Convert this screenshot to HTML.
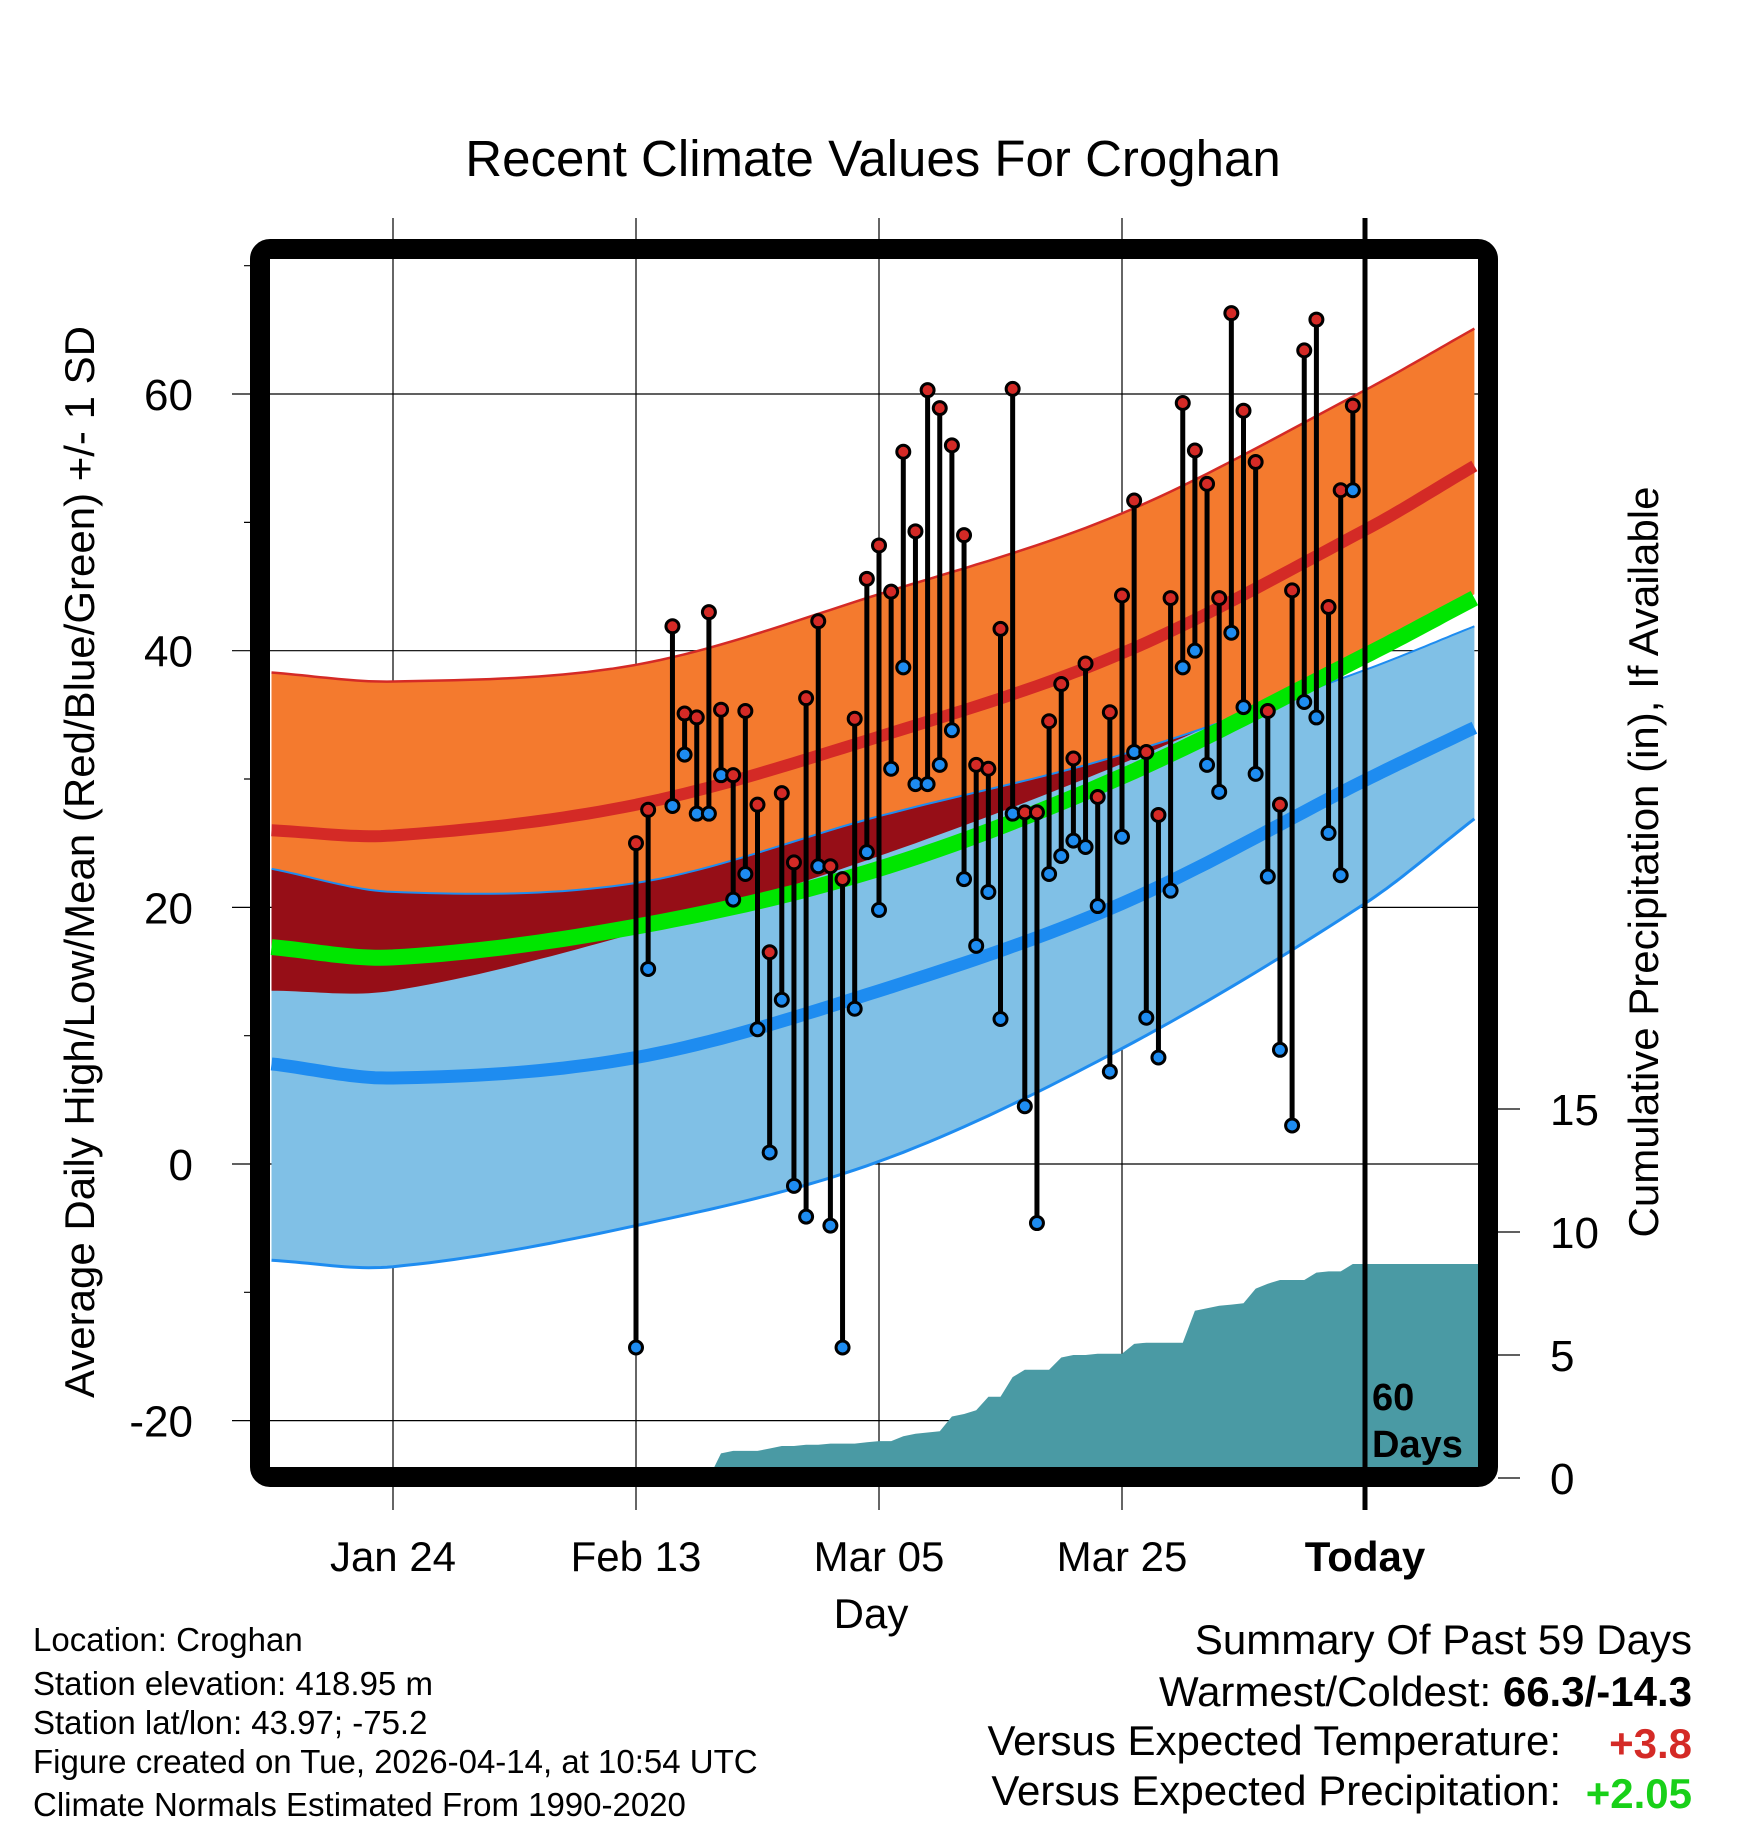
<!DOCTYPE html>
<html><head><meta charset="utf-8"><style>
html,body{margin:0;padding:0;background:#fff;width:1748px;height:1828px;overflow:hidden}
svg text{font-family:"Liberation Sans",sans-serif}
</style></head><body>
<svg id="chart" width="1748" height="1828" viewBox="0 0 1748 1828" xmlns="http://www.w3.org/2000/svg">
<defs><clipPath id="plotclip"><rect x="270" y="260" width="1208" height="1207"/></clipPath></defs>
<text x="873" y="176" font-size="51" text-anchor="middle">Recent Climate Values For Croghan</text>
<g id="grid"></g>
<g id="bands" clip-path="url(#plotclip)"></g>
<g id="precip" clip-path="url(#plotclip)"></g>
<g id="obs" clip-path="url(#plotclip)"></g>
<rect x="260" y="249" width="1228" height="1228" rx="10" fill="none" stroke="#000" stroke-width="20"/>
<g id="axes"></g>
<text transform="translate(94,862) rotate(-90)" font-size="42" text-anchor="middle">Average Daily High/Low/Mean (Red/Blue/Green) +/- 1 SD</text>
<text transform="translate(1658,862) rotate(-90)" font-size="42" text-anchor="middle">Cumulative Precipitation (in), If Available</text>
<text x="871" y="1628" font-size="42" text-anchor="middle">Day</text>
<text font-size="38" font-weight="bold"><tspan x="1372" y="1410">60</tspan><tspan x="1372" y="1457">Days</tspan></text>
<g font-size="33">
<text x="33" y="1651">Location: Croghan</text>
<text x="33" y="1695">Station elevation: 418.95 m</text>
<text x="33" y="1734">Station lat/lon: 43.97; -75.2</text>
<text x="33" y="1773">Figure created on Tue, 2026-04-14, at 10:54 UTC</text>
<text x="33" y="1816">Climate Normals Estimated From 1990-2020</text>
</g>
<g font-size="42" text-anchor="end">
<text x="1692" y="1654">Summary Of Past 59 Days</text>
<text x="1692" y="1706">Warmest/Coldest: <tspan font-weight="bold">66.3/-14.3</tspan></text>
<text x="1561" y="1755">Versus Expected Temperature:</text>
<text x="1692" y="1758" fill="#d42a26" font-weight="bold">+3.8</text>
<text x="1561" y="1805">Versus Expected Precipitation:</text>
<text x="1692" y="1808" fill="#18d018" font-weight="bold">+2.05</text>
</g>
</svg>
<script>
// day index relative to Jan 24
const normDays=[-10,0,20,40,60,80,89];
const highPlus=[38.3,37.6,38.9,44.4,50.7,60.3,65.1];
const highMean=[26.0,25.6,28.0,33.3,39.8,49.4,54.4];
const highMinus=[13.5,13.5,18.0,24.0,31.2,39.8,44.4];
const meanAvg=[16.9,16.1,18.5,23.0,30.2,39.6,44.1];
const lowPlus=[23.0,21.2,21.9,27.1,31.9,38.5,41.9];
const lowMean=[7.8,6.7,8.3,13.5,20.3,29.9,34.0];
const lowMinus=[-7.5,-8.0,-4.8,0.2,9.0,20.3,26.9];
const highs=[25.0,27.6,null,41.9,35.1,34.8,43.0,35.4,30.3,35.3,28.0,16.5,28.9,23.5,36.3,42.3,23.2,22.2,34.7,45.6,48.2,44.6,55.5,49.3,60.3,58.9,56.0,49.0,31.1,30.8,41.7,60.4,27.4,27.4,34.5,37.4,31.6,39.0,28.6,35.2,44.3,51.7,32.1,27.2,44.1,59.3,55.6,53.0,44.1,66.3,58.7,54.7,35.3,28.0,44.7,63.4,65.8,43.4,52.5,59.1];
const lows=[-14.3,15.2,null,27.9,31.9,27.3,27.3,30.3,20.6,22.6,10.5,0.9,12.8,-1.7,-4.1,23.2,-4.8,-14.3,12.1,24.3,19.8,30.8,38.7,29.6,29.6,31.1,33.8,22.2,17.0,21.2,11.3,27.3,4.5,-4.6,22.6,24.0,25.2,24.7,20.1,7.2,25.5,32.1,11.4,8.3,21.3,38.7,40.0,31.1,29.0,41.4,35.6,30.4,22.4,8.9,3.0,36.0,34.8,25.8,22.5,52.5];
const precip=[0,0,0,0,0,0,0,1.0,1.1,1.1,1.1,1.2,1.3,1.3,1.35,1.35,1.4,1.4,1.4,1.45,1.5,1.5,1.7,1.8,1.85,1.9,2.5,2.6,2.75,3.3,3.3,4.1,4.4,4.4,4.4,4.9,5.0,5.0,5.05,5.05,5.05,5.45,5.5,5.5,5.5,5.5,6.8,6.9,7.0,7.05,7.1,7.7,7.9,8.05,8.05,8.05,8.35,8.4,8.4,8.7];
const firstDay=20;
const xTickDays=[0,20,40,60,80];
const xTickLabels=["Jan 24","Feb 13","Mar 05","Mar 25","Today"];
const yTicks=[-20,0,20,40,60];
const yMinor=[-10,10,30,50,70];
const pTicks=[0,5,10,15];

const NS="http://www.w3.org/2000/svg";
const xs=d=>393+d*12.15;
const yT=t=>1164-t*12.833;
const yP=p=>1478-p*24.6;
function mk(tag,attrs,parent){const e=document.createElementNS(NS,tag);for(const k in attrs)e.setAttribute(k,attrs[k]);parent.appendChild(e);return e;}
function curve(vals){
  const pts=[];const n=vals.length;
  for(let i=0;i<n-1;i++){
    const d0=normDays[Math.max(i-1,0)],d1=normDays[i],d2=normDays[i+1],d3=normDays[Math.min(i+2,n-1)];
    const v0=vals[Math.max(i-1,0)],v1=vals[i],v2=vals[i+1],v3=vals[Math.min(i+2,n-1)];
    const m1=(v2-v0)/((d2-d0)||1)*(d2-d1), m2=(v3-v1)/((d3-d1)||1)*(d2-d1);
    for(let s=0;s<20;s++){const t=s/20,t2=t*t,t3=t2*t;
      const v=(2*t3-3*t2+1)*v1+(t3-2*t2+t)*m1+(-2*t3+3*t2)*v2+(t3-t2)*m2;
      pts.push([d1+(d2-d1)*t,v]);}
  }
  pts.push([normDays[n-1],vals[n-1]]);return pts;
}
const line=p=>p.map((q,i)=>(i?'L':'M')+xs(q[0]).toFixed(1)+','+yT(q[1]).toFixed(1)).join(' ');
function band(a,b){return line(a)+' '+b.slice().reverse().map(q=>'L'+xs(q[0]).toFixed(1)+','+yT(q[1]).toFixed(1)).join(' ')+'Z';}

const grid=document.getElementById('grid');
xTickDays.forEach((d,i)=>{
  const l=mk('line',{x1:xs(d),x2:xs(d),y1:218,y2:1510,stroke:'#000','stroke-width':i===4?5:1.2},grid);
  
  
});
yTicks.forEach(t=>{
  const l=mk('line',{x1:232,x2:1478,y1:yT(t),y2:yT(t),stroke:'#000','stroke-width':1.2},grid);
  
  
});
yMinor.forEach(t=>{
  const l=mk('line',{x1:244,x2:262,y1:yT(t),y2:yT(t),stroke:'#000','stroke-width':1.2},grid);
  
  
});

const HP=curve(highPlus),HM=curve(highMean),HN=curve(highMinus),MA=curve(meanAvg),LP=curve(lowPlus),LM=curve(lowMean),LN=curve(lowMinus);
const bands=document.getElementById('bands');
let e;
e=mk('path',{d:band(HN,HP),fill:'#f47a2e'},bands);


e=mk('path',{d:line(HP),fill:'none',stroke:'#d42a26','stroke-width':2.5},bands);


e=mk('path',{d:band(LN,LP),fill:'#80c0e6'},bands);


const ovTop=LP.map((q,i)=>[q[0],Math.min(q[1],HP[i][1])]);
const ovBot=HN.map((q,i)=>[q[0],Math.max(q[1],LN[i][1])]);
const ovB=ovBot.map((q,i)=>[q[0],Math.min(q[1],ovTop[i][1])]);
e=mk('path',{d:band(ovB,ovTop),fill:'#960e17'},bands);


e=mk('path',{d:line(LP),fill:'none',stroke:'#1e8cf0','stroke-width':2},bands);


e=mk('path',{d:line(LN),fill:'none',stroke:'#1e8cf0','stroke-width':3},bands);


e=mk('path',{d:line(HM),fill:'none',stroke:'#d42a26','stroke-width':12},bands);


e=mk('path',{d:line(LM),fill:'none',stroke:'#1e8cf0','stroke-width':13},bands);


e=mk('path',{d:line(MA),fill:'none',stroke:'#00e600','stroke-width':16},bands);



const pg=document.getElementById('precip');
let pd='M'+xs(firstDay)+','+yP(0);
precip.forEach((p,i)=>{pd+=' L'+xs(firstDay+i).toFixed(1)+','+yP(p).toFixed(1);});
pd+=' L1480,'+yP(precip[precip.length-1]).toFixed(1)+' L1480,'+yP(0)+' Z';
e=mk('path',{d:pd,fill:'#4a9aa4'},pg);


e=mk('line',{x1:xs(80),x2:xs(80),y1:255,y2:1470,stroke:'#000','stroke-width':5},pg);



const og=document.getElementById('obs');
highs.forEach((h,i)=>{
  const l=lows[i];if(h==null||l==null)return;
  const x=xs(firstDay+i);
  const s=mk('line',{x1:x,x2:x,y1:yT(h),y2:yT(l),stroke:'#000','stroke-width':5},og);
  
  
  const c1=mk('circle',{cx:x,cy:yT(h),r:6.5,fill:'#d42a26',stroke:'#000','stroke-width':3},og);
  
  
  const c2=mk('circle',{cx:x,cy:yT(l),r:6.5,fill:'#1e8cf0',stroke:'#000','stroke-width':3},og);
  
  
});

const ax=document.getElementById('axes');
xTickLabels.forEach((lab,i)=>{
  const t=mk('text',{x:xs(xTickDays[i]),y:1571,'font-size':42,'text-anchor':'middle','font-weight':i===4?'bold':'normal'},ax);
  t.textContent=lab;
  
  
});
yTicks.forEach(v=>{
  const t=mk('text',{x:193,y:yT(v)+16,'font-size':44,'text-anchor':'end'},ax);
  t.textContent=String(v);
  
  
});
pTicks.forEach(v=>{
  const l=mk('line',{x1:1498,x2:1520,y1:yP(v),y2:yP(v),stroke:'#000','stroke-width':1.2},ax);
  
  
  const t=mk('text',{x:1550,y:yP(v)+16,'font-size':44},ax);
  t.textContent=String(v);
  
  
});
</script>
</body></html>
